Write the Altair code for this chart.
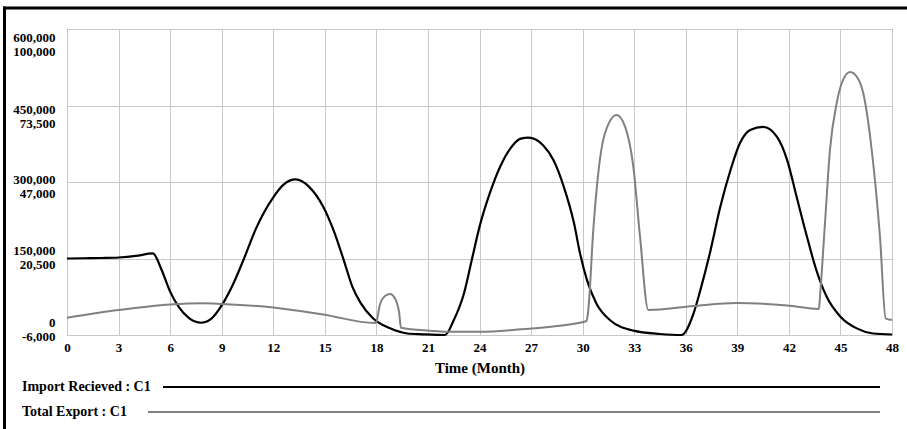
import altair as alt
import pandas as pd

# ---------------- data ----------------
import_months = [0, 1, 2, 3, 4, 5, 5.5, 6.0, 6.5, 7.1, 7.8, 8.4, 9.0, 9.6, 10.3, 11.0,
                 12.0, 12.6, 13.3, 14.1, 14.9, 15.5, 16.1, 16.6, 17.1, 17.8, 18.8, 19.8,
                 20.7, 22.0, 22.5, 23.1, 23.55, 24.0, 24.6, 25.2, 25.8, 26.4, 26.85, 27.7,
                 28.3, 28.9, 29.5, 29.85, 30.25, 30.8, 31.6, 32.95, 34.5, 35.75, 36.45,
                 36.85, 37.4, 38.0, 38.6, 39.15, 39.75, 40.5, 41.3, 41.9, 42.45, 43.05,
                 43.6, 44.2, 45.0, 45.95, 46.9, 48.0]
import_values = [150000, 150500, 151000, 152000, 155000, 160000, 128000, 85000, 55000,
                 33000, 24000, 32000, 58000, 95000, 150000, 209000, 270000, 295000,
                 305000, 290000, 252000, 206000, 147000, 95000, 62000, 33000, 13000, 3000,
                 1400, 0, 29000, 82000, 147000, 212000, 278000, 330000, 366000, 385000,
                 387000, 372000, 343000, 291000, 219000, 160000, 108000, 62000, 29000,
                 8500, 2000, 0, 42000, 88000, 160000, 250000, 323000, 376000, 402000,
                 408000, 389000, 343000, 271000, 193000, 127000, 75000, 36000, 13000,
                 3000, 1000]

export_months = [0, 3.0, 6.0, 7.9, 9.0, 12.0, 14.9, 17.9, 17.98, 18.2, 18.5, 18.8, 19.08,
                 19.33, 19.43, 21.1, 22.1, 24.0, 26.4, 28.5, 30.23, 30.33, 30.62, 30.91,
                 31.3, 31.98, 32.47, 32.95, 33.34, 33.82, 36.44, 38.96, 41.9, 43.75, 43.81,
                 44.1, 44.39, 44.78, 45.1, 45.56, 46.0, 46.33, 46.82, 47.3, 47.63, 48.0]
export_values = [0, 2660, 4565, 4981, 4740, 3526, 1101, -1843, -1800, 4392, 7510, 8202,
                 6713, 1517, -3471, -4510, -4857, -4857, -4026, -2882, -1150, 2660, 30372,
                 50013, 63869, 70208, 66155, 52299, 28051, 2660, 4046, 5085, 4219, 3006,
                 7267, 32693, 58084, 74261, 81639, 85103, 83025, 77725, 58084, 28051,
                 -215, -804]

x_ticks = list(range(0, 49, 3))
y_ticks = [0, 150000, 300000, 450000, 600000]
import_domain = [0, 600000]
export_domain = [-6000, 100000]
series_names = ["Import Recieved : C1", "Total Export : C1"]

FONT = "Liberation Serif"
W, H = 825, 306
PAD_L, PAD_T = 67, 29

imp = pd.DataFrame({"Time": import_months, "Value": import_values})
exp = pd.DataFrame({"Time": export_months, "Value": export_values})
one = pd.DataFrame({"k": [0]})

x_scale = alt.Scale(domain=[0, 48], nice=False, zero=False)
x_axis = alt.Axis(values=x_ticks, title="Time (Month)", grid=True,
                  gridColor="#c8c8c8", ticks=False, domain=False,
                  labelFont=FONT, labelFontSize=13, labelFontWeight="bold",
                  labelColor="black", labelPadding=6, labelFlush=False,
                  titleFont=FONT, titleFontSize=15, titleFontWeight="bold",
                  titleColor="black", titlePadding=6)

label_expr = ("[format(datum.value, ','), datum.value == 0 ? '-6,000' : "
              "format(-6000 + datum.value * 106000 / 600000, ',')]")

y_label_offset = {
    "condition": [
        {"test": "datum.value == 600000", "value": 8},
        {"test": "datum.value == 450000", "value": 4},
        {"test": "datum.value == 150000", "value": -8},
        {"test": "datum.value == 0", "value": -13},
    ],
    "value": -3,
}

imp_line = alt.Chart(imp).mark_line(color="black", strokeWidth=2.2,
                                    interpolate="monotone").encode(
    x=alt.X("Time:Q", scale=x_scale, axis=x_axis),
    y=alt.Y("Value:Q", scale=alt.Scale(domain=import_domain, nice=False, zero=False),
            axis=alt.Axis(values=y_ticks, labelExpr=label_expr, title=None, grid=True,
                          gridColor="#c8c8c8", ticks=False, domain=False,
                          labelFont=FONT, labelFontSize=13, labelFontWeight="bold",
                          labelColor="black", labelPadding=12, labelFlush=False,
                          labelBaseline="middle", labelOffset=y_label_offset,
                          labelLineHeight=14, labelAlign="right")),
)

exp_line = alt.Chart(exp).mark_line(color="#808080", strokeWidth=2,
                                    interpolate="monotone").encode(
    x=alt.X("Time:Q", scale=x_scale, axis=x_axis),
    y=alt.Y("Value:Q", scale=alt.Scale(domain=export_domain, nice=False, zero=False),
            axis=None),
)

# legend (bottom), drawn as text + long line samples
leg_y1 = 387 - PAD_T
leg_y2 = 412 - PAD_T
leg_text1 = alt.Chart(one).mark_text(text=series_names[0], align="left", baseline="middle",
                                     font=FONT, fontSize=14, fontWeight="bold",
                                     color="black").encode(
    x=alt.value(22 - PAD_L), y=alt.value(leg_y1))
leg_text2 = alt.Chart(one).mark_text(text=series_names[1], align="left", baseline="middle",
                                     font=FONT, fontSize=14, fontWeight="bold",
                                     color="black").encode(
    x=alt.value(22 - PAD_L), y=alt.value(leg_y2))
leg_rule1 = alt.Chart(one).mark_rule(color="black", strokeWidth=2.2).encode(
    x=alt.value(163 - PAD_L), x2=alt.value(880 - PAD_L), y=alt.value(leg_y1))
leg_rule2 = alt.Chart(one).mark_rule(color="#808080", strokeWidth=2).encode(
    x=alt.value(148 - PAD_L), x2=alt.value(880 - PAD_L), y=alt.value(leg_y2))

# outer window frame (left and top edges)
frame_left = alt.Chart(one).mark_rule(color="black", strokeWidth=3).encode(
    x=alt.value(4.5 - PAD_L), y=alt.value(6.5 - PAD_T), y2=alt.value(429 - PAD_T))
frame_top = alt.Chart(one).mark_rule(color="black", strokeWidth=3).encode(
    x=alt.value(3 - PAD_L), x2=alt.value(907 - PAD_L), y=alt.value(8 - PAD_T))

chart = alt.layer(
    imp_line, exp_line, leg_text1, leg_text2, leg_rule1, leg_rule2, frame_left, frame_top
).resolve_scale(
    y="independent"
).properties(
    width=W, height=H,
    padding={"left": PAD_L, "top": PAD_T, "right": 907 - PAD_L - W, "bottom": 429 - PAD_T - H},
    autosize=alt.AutoSizeParams(type="none"),
    background="white",
).configure_view(
    stroke="#606060", strokeWidth=1
)

chart.save("out.html", embed_options={"renderer": "svg", "actions": False})
